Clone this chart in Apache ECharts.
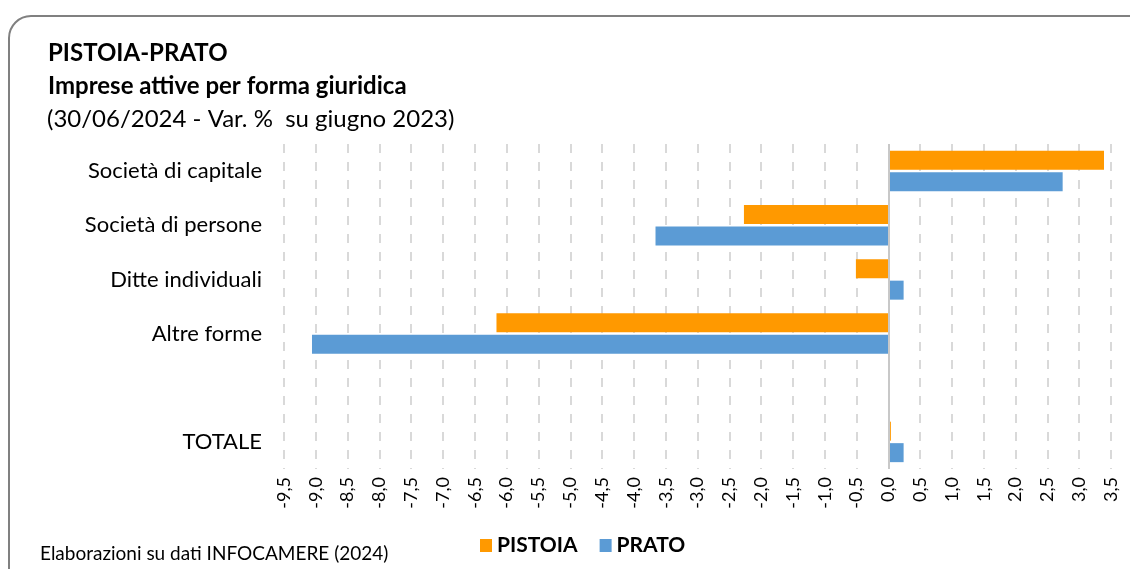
<!DOCTYPE html>
<html>
<head>
<meta charset="utf-8">
<script src="https://cdn.jsdelivr.net/npm/echarts@6/dist/echarts.min.js"></script>
<style>
  html, body { margin: 0; padding: 0; background: #fff; }
  #chart { width: 1130px; height: 569px; }
</style>
</head>
<body>
<div id="chart"></div>
<script>
// dati: var. % imprese attive 30/06/2024 su giugno 2023
var categories = ['Società di capitale', 'Società di persone', 'Ditte individuali', 'Altre forme', '', 'TOTALE'];
var pistoia = [3.39, -2.27, -0.51, -6.16, null, 0.04];
var prato = [2.74, -3.66, 0.24, -9.06, null, 0.24];

var font = 'Lato';

var myChart = echarts.init(document.getElementById('chart'));

var option = {
    animation: false,
    textStyle: { fontFamily: font },
    title: [
        { text: 'PISTOIA-PRATO', left: 48, top: 41, padding: 0,
          textStyle: { fontSize: 24, fontWeight: 'bold', color: '#000', fontFamily: font } },
        { text: 'Imprese attive per forma giuridica', left: 48, top: 74, padding: 0,
          textStyle: { fontSize: 24, fontWeight: 'bold', color: '#000', fontFamily: font } },
        { text: '(30/06/2024 - Var. %  su giugno 2023)', left: 47, top: 107, padding: 0,
          textStyle: { fontSize: 24, fontWeight: 'normal', color: '#000', fontFamily: font } },
        { text: 'Elaborazioni su dati INFOCAMERE (2024)', left: 40, top: 544, padding: 0,
          textStyle: { fontSize: 19, fontWeight: 'normal', color: '#000', fontFamily: font } }
    ],
    graphic: [
        { type: 'rect', silent: true,
          shape: { x: 9, y: 16, width: 1200, height: 700, r: 22 },
          style: { fill: 'none', stroke: '#808080', lineWidth: 2 } }
    ],
    legend: {
        data: ['PISTOIA', 'PRATO'],
        left: 480, top: 535, padding: 0,
        itemWidth: 12, itemHeight: 13, itemGap: 22,
        icon: 'rect',
        textStyle: { fontSize: 21, fontWeight: 'bold', color: '#000', fontFamily: font }
    },
    grid: { left: 284, right: 19, top: 144, bottom: 100, containLabel: false },
    xAxis: {
        type: 'value',
        min: -9.5, max: 3.5, interval: 0.5,
        axisLine: { show: false },
        axisTick: { show: false },
        splitLine: { show: true, lineStyle: { color: '#d9d9d9', width: 2, type: [9, 9] } },
        axisLabel: {
            rotate: 90, margin: 8, fontSize: 18, color: '#000', fontFamily: font,
            formatter: function (v) { return v.toFixed(1).replace('.', ','); }
        }
    },
    yAxis: {
        type: 'category',
        data: categories,
        inverse: true,
        axisLine: { show: false },
        axisTick: { show: false },
        axisLabel: { margin: 22, fontSize: 22, color: '#000', fontFamily: font }
    },
    series: [
        {
            name: 'PISTOIA', type: 'bar', data: pistoia,
            barWidth: 19, barGap: '13%', barMinHeight: 0,
            itemStyle: { color: '#ff9900' },
            markLine: {
                silent: true, symbol: 'none', label: { show: false },
                lineStyle: { color: '#c8c8c8', width: 2, type: 'solid' },
                data: [{ xAxis: 0 }]
            }
        },
        {
            name: 'PRATO', type: 'bar', data: prato,
            barWidth: 19,
            itemStyle: { color: '#5b9bd5' }
        }
    ]
};

myChart.setOption(option);
</script>
</body>
</html>
